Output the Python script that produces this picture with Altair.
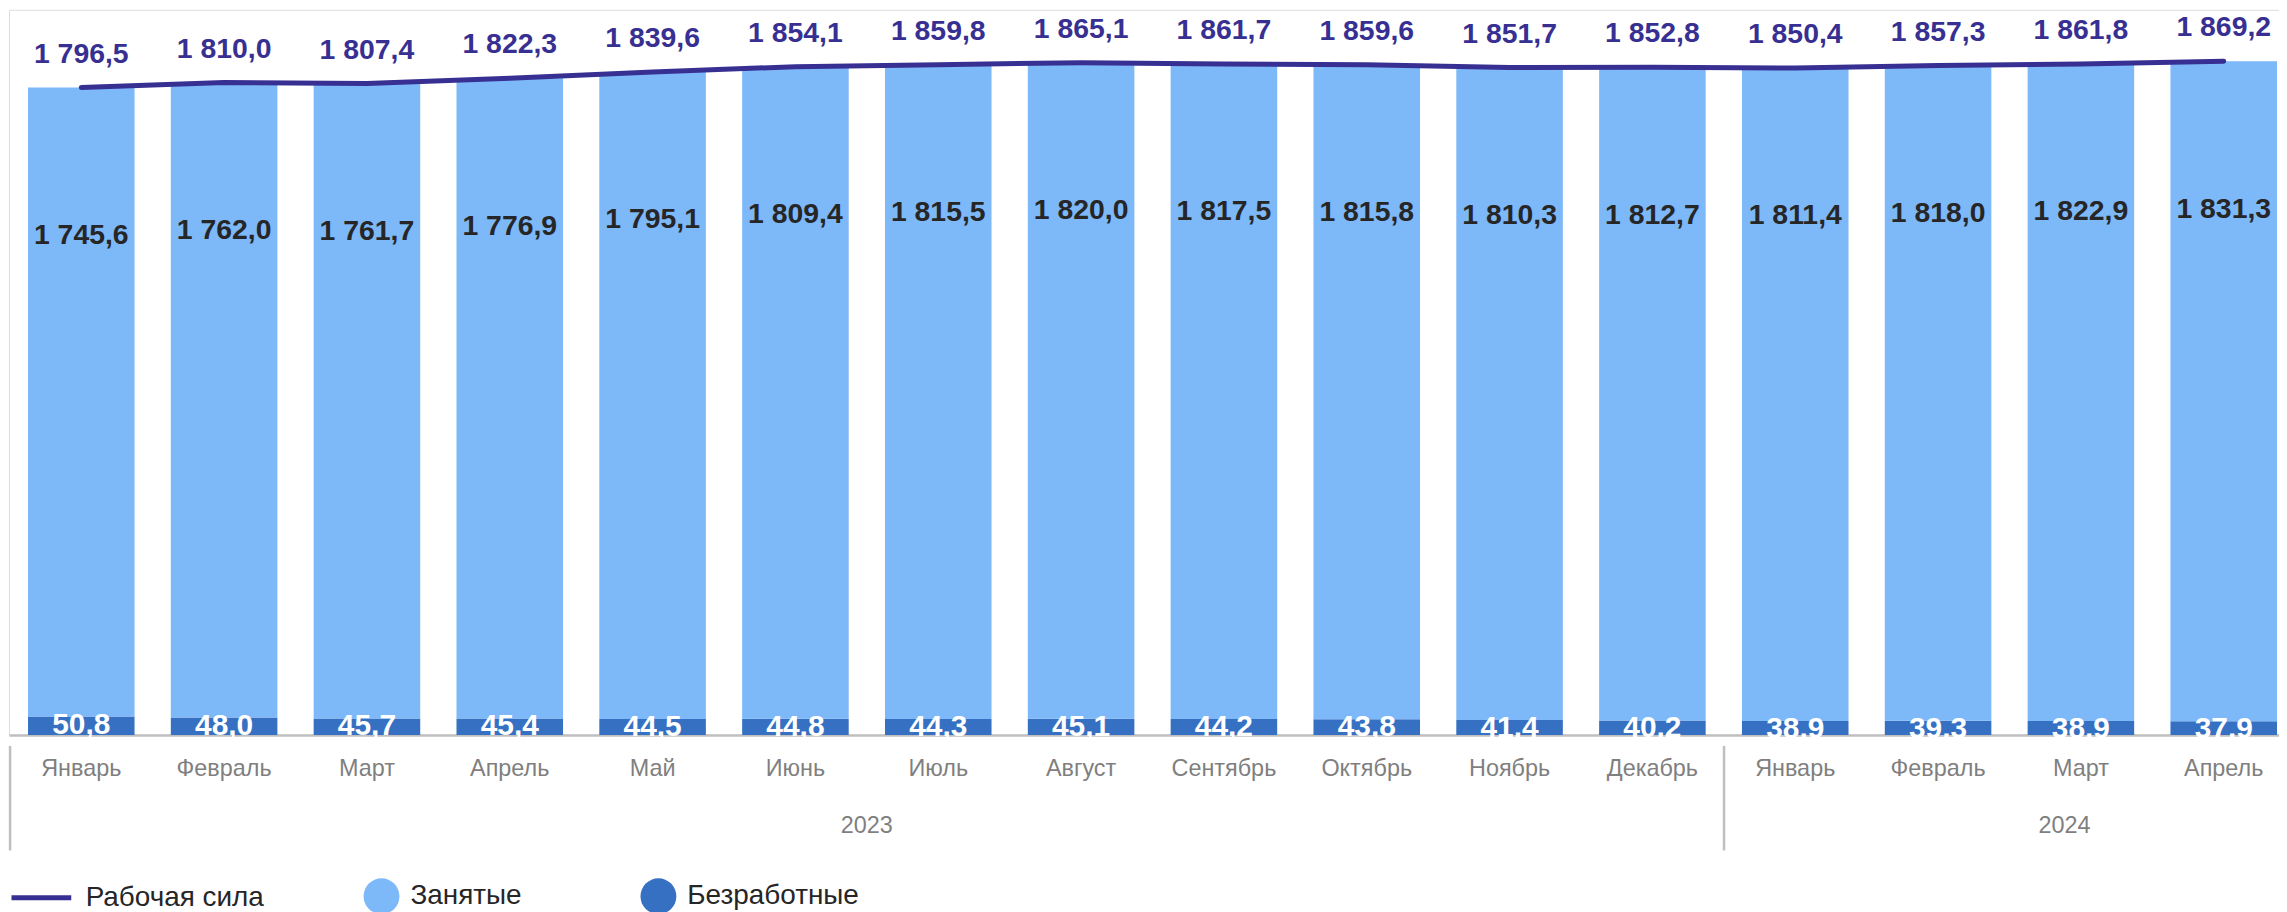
import altair as alt
import pandas as pd

# ---- data ----
months = ["Январь", "Февраль", "Март", "Апрель", "Май", "Июнь", "Июль", "Август",
          "Сентябрь", "Октябрь", "Ноябрь", "Декабрь", "Январь", "Февраль", "Март", "Апрель"]
years = [2023] * 12 + [2024] * 4
labor_force = [1796.5, 1810.0, 1807.4, 1822.3, 1839.6, 1854.1, 1859.8, 1865.1,
               1861.7, 1859.6, 1851.7, 1852.8, 1850.4, 1857.3, 1861.8, 1869.2]
employed = [1745.6, 1762.0, 1761.7, 1776.9, 1795.1, 1809.4, 1815.5, 1820.0,
            1817.5, 1815.8, 1810.3, 1812.7, 1811.4, 1818.0, 1822.9, 1831.3]
unemployed = [50.8, 48.0, 45.7, 45.4, 44.5, 44.8, 44.3, 45.1,
              44.2, 43.8, 41.4, 40.2, 38.9, 39.3, 38.9, 37.9]
year_labels = ["2023", "2024"]
year_anchor = ["Июнь 2023", "Март 2024"]
year_shift = [125, 37]
separators = ["Январь 2023", "Январь 2024"]

LF_NAME = "Рабочая сила"
EMP_NAME = "Занятые"
UNEMP_NAME = "Безработные"

keys = [f"{m} {y}" for m, y in zip(months, years)]

wide = pd.DataFrame({
    "key": keys,
    "labor": labor_force,
    "employed": employed,
    "unemployed": unemployed,
    "lf_name": LF_NAME,
})
long = pd.concat([
    pd.DataFrame({"key": keys, "series": UNEMP_NAME, "value": unemployed, "order": 0}),
    pd.DataFrame({"key": keys, "series": EMP_NAME, "value": employed, "order": 1}),
])
years_df = pd.DataFrame({"key": year_anchor, "label": year_labels, "shift": year_shift})
sep_df = pd.DataFrame({"key": separators})


def ru_fmt(field):
    return f"replace(replace(format(datum.{field}, ',.1f'), ',', ' '), '.', ',')"


FONT = "Liberation Sans"
C_LINE = "#373092"
C_EMP = "#7DB8F9"
C_UNEMP = "#3670C2"
C_AXIS = "#BFBFBF"

xscale = alt.Scale(domain=keys, paddingInner=0.254, paddingOuter=0.0735, align=0.905)
yscale = alt.Scale(domain=[0, 2012])

xaxis = alt.Axis(
    title=None, labelAngle=0, ticks=False, grid=False,
    domain=True, domainColor=C_AXIS, domainWidth=2.5,
    labelFont=FONT, labelFontSize=23.5, labelColor="#7F7F7F", labelPadding=22,
    labelExpr="split(datum.label, ' ')[0]",
)


def X(**kw):
    return alt.X("key:N", scale=xscale, **kw)


def Y(field):
    return alt.Y(field, scale=yscale, axis=None)


bars = alt.Chart(long).mark_bar().encode(
    x=alt.X("key:N", scale=xscale, axis=xaxis),
    y=alt.Y("value:Q", stack="zero", scale=yscale, axis=None),
    color=alt.Color(
        "series:N",
        scale=alt.Scale(domain=[EMP_NAME, UNEMP_NAME], range=[C_EMP, C_UNEMP]),
        legend=alt.Legend(
            title=None, orient="none", legendX=356, legendY=872, direction="horizontal",
            symbolType="circle", symbolSize=1296, symbolStrokeWidth=0,
            labelFont=FONT, labelFontSize=28, labelColor="#262626", labelLimit=600,
            labelOffset=11, columnPadding=119, padding=0,
        ),
    ),
    order=alt.Order("order:Q"),
)

line = alt.Chart(wide).mark_line(strokeWidth=5, strokeCap="round").encode(
    x=X(),
    y=Y("labor:Q"),
    stroke=alt.Stroke(
        "lf_name:N",
        scale=alt.Scale(domain=[LF_NAME], range=[C_LINE]),
        legend=alt.Legend(
            title=None, orient="none", legendX=0, legendY=859,
            symbolType="stroke", symbolSize=3600, symbolStrokeWidth=5,
            labelFont=FONT, labelFontSize=28, labelColor="#262626", labelLimit=600,
            labelOffset=12, padding=0,
        ),
    ),
)

lf_text = alt.Chart(wide).transform_calculate(lbl=ru_fmt("labor")).mark_text(
    font=FONT, fontSize=28.5, fontWeight="bold", color=C_LINE, baseline="middle", dy=-34
).encode(x=X(), y=Y("labor:Q"), text="lbl:N")

emp_text = alt.Chart(wide).transform_calculate(lbl=ru_fmt("employed")).mark_text(
    font=FONT, fontSize=28.5, fontWeight="bold", color="#262626", baseline="middle", dy=148
).encode(x=X(), y=Y("labor:Q"), text="lbl:N")

unemp_text = alt.Chart(wide).transform_calculate(lbl=ru_fmt("unemployed")).mark_text(
    font=FONT, fontSize=30, fontWeight="bold", color="white", baseline="middle", dy=8
).encode(x=X(), y=Y("unemployed:Q"), text="lbl:N")

year_text = alt.Chart(years_df).mark_text(
    font=FONT, fontSize=23.5, color="#7F7F7F", baseline="middle"
).encode(
    x=X(),
    xOffset=alt.XOffset("shift:Q", scale=None),
    y=alt.value(819),
    text="label:N",
)

sep = alt.Chart(sep_df).mark_rule(color=C_AXIS, strokeWidth=2.5, xOffset=-18).encode(
    x=X(bandPosition=0),
    y=alt.value(739),
    y2=alt.value(844),
)

chart = alt.layer(bars, line, lf_text, emp_text, unemp_text, year_text, sep).resolve_scale(
    x="shared"
).properties(
    width=2279, height=728, padding=0
).configure_view(stroke="transparent", strokeWidth=0).configure(font=FONT)

chart.save("out.html", embed_options={"renderer": "svg", "actions": False})
